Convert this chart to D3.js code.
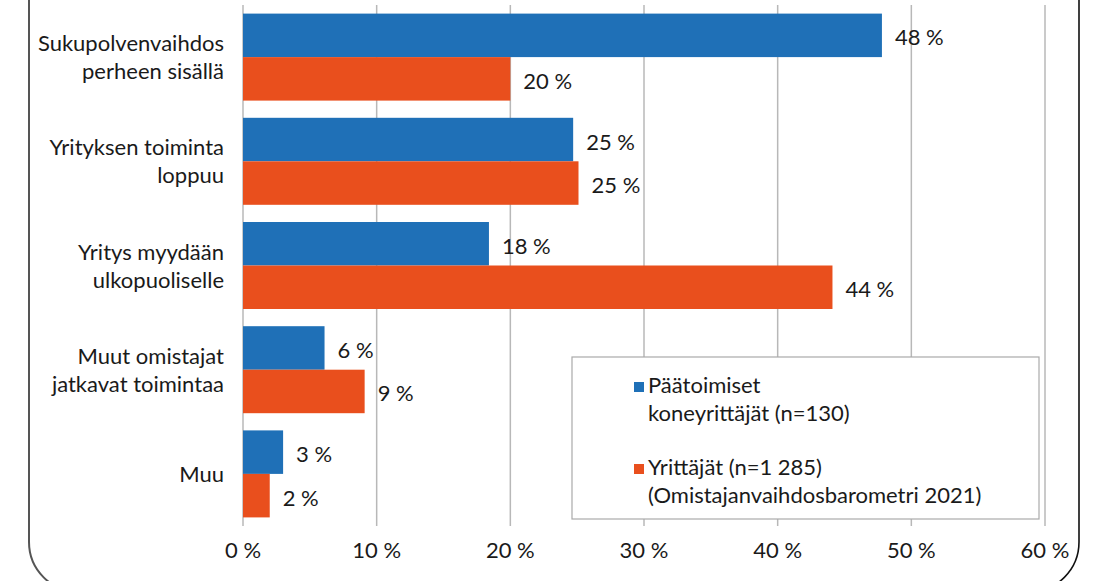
<!DOCTYPE html>
<html>
<head>
<meta charset="utf-8">
<script src="https://cdn.jsdelivr.net/npm/d3@7/dist/d3.min.js"></script>
<style>
  body { margin: 0; background: #fff; }
  svg text { font-family: "Lato", "Open Sans", sans-serif; fill: #1a1a1a; }
</style>
</head>
<body>
<div id="chart"></div>
<script>
const categories = [
    ['Sukupolvenvaihdos', 'perheen sisällä'],
    ['Yrityksen toiminta', 'loppuu'],
    ['Yritys myydään', 'ulkopuoliselle'],
    ['Muut omistajat', 'jatkavat toimintaa'],
    ['Muu']
];
const koneyrittajat = [47.8, 24.7, 18.4, 6.1, 3.0];
const yrittajat = [20.0, 25.1, 44.1, 9.1, 2.0];
const xTicks = [0, 10, 20, 30, 40, 50, 60];
const seriesNames = [
    ['Päätoimiset', 'koneyrittäjät (n=130)'],
    ['Yrittäjät (n=1 285)', '(Omistajanvaihdosbarometri 2021)']
];

const W = 1103, H = 581;
const cBlue = '#1f70b7', cOrange = '#e94f1d';
const plotL = 243, plotR = 1045, plotT = 5, plotB = 526;
const fs = '22px';

const svg = d3.select('#chart').append('svg').attr('width', W).attr('height', H);

// frame of the source picture (rounded box, cut off at bottom)
svg.append('path')
    .attr('d', `M29,0 V542 A50,50 0 0 0 79,592`)
    .style('fill', 'none').style('stroke', '#555').style('stroke-width', 2);
svg.append('path')
    .attr('d', `M1079,0 V542 A50,50 0 0 1 1029,592`)
    .style('fill', 'none').style('stroke', '#111').style('stroke-width', 1.6);

const x = d3.scaleLinear().domain([0, 60]).range([plotL, plotR]);
const y = d3.scaleBand().domain(d3.range(categories.length)).range([plotT, plotB]).paddingInner(17.2 / 104.2).paddingOuter(8.6 / 104.2);
const sub = d3.scaleBand().domain([0, 1]).range([0, y.bandwidth()]);

// gridlines
svg.append('g').selectAll('line').data(xTicks).enter().append('line')
    .attr('x1', d => x(d)).attr('x2', d => x(d))
    .attr('y1', plotT).attr('y2', plotB)
    .style('stroke', '#b8b8b8').style('stroke-width', 1.5);

// tick labels
svg.append('g').selectAll('text').data(xTicks).enter().append('text')
    .attr('x', d => x(d)).attr('y', 558)
    .attr('text-anchor', 'middle').style('font-size', fs)
    .text(d => `${d} %`);

// category labels
categories.forEach((lines, i) => {
    const cy = y(i) + y.bandwidth() / 2;
    const t = svg.append('text').attr('text-anchor', 'end').style('font-size', fs);
    lines.forEach((l, j) => {
        t.append('tspan').attr('x', 224)
            .attr('y', cy + 8 + (j - (lines.length - 1) / 2) * 28)
            .text(l);
    });
});

// bars
const series = [koneyrittajat, yrittajat];
const colors = [cBlue, cOrange];
series.forEach((vals, s) => {
    const g = svg.append('g');
    g.selectAll('rect').data(vals).enter().append('rect')
        .attr('x', x(0)).attr('y', (d, i) => y(i) + sub(s))
        .attr('width', d => x(d) - x(0)).attr('height', sub.bandwidth())
        .style('fill', colors[s]);
    g.selectAll('text').data(vals).enter().append('text')
        .attr('x', d => x(d) + 13).attr('y', (d, i) => y(i) + sub(s) + sub.bandwidth() / 2 + 10)
        .style('font-size', fs)
        .text(d => `${Math.round(d)} %`);
});

// legend
const lg = svg.append('g');
lg.append('rect').attr('x', 572).attr('y', 357).attr('width', 467).attr('height', 162)
    .style('fill', '#fff').style('stroke', '#aaa').style('stroke-width', 1.2);
seriesNames.forEach((lines, s) => {
    const by = 393 + s * 82;
    lg.append('rect').attr('x', 634).attr('y', by - 11).attr('width', 10).attr('height', 10).style('fill', colors[s]);
    lines.forEach((l, j) => {
        lg.append('text').attr('x', 648).attr('y', by + j * 28).style('font-size', fs).text(l);
    });
});
</script>
</body>
</html>
